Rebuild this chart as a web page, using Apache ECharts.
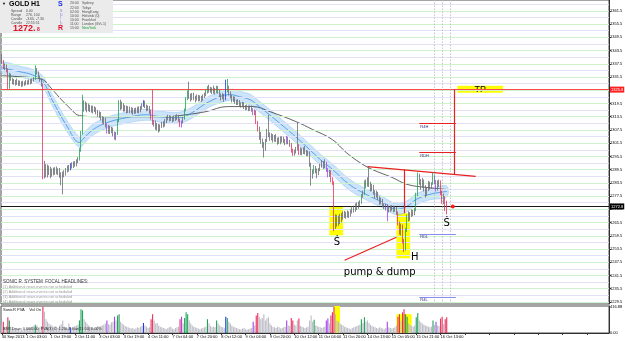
<!DOCTYPE html>
<html><head><meta charset="utf-8">
<script src="https://cdn.jsdelivr.net/npm/echarts@6/dist/echarts.min.js"></script>
<style>html,body{margin:0;padding:0;background:#fff;overflow:hidden}#c{width:625px;height:341px}</style>
</head><body><div id="c"></div><script>
// ---------- DATA ----------
// hourly candles [open, close, low, high], GOLD H1, 30 Sep 2013 -> 16 Oct 2013
const candles = [
[1340.0,1338.5,1337.5,1341.8],[1338.5,1336.0,1335.2,1339.2],[1336.0,1336.8,1334.6,1337.6],[1336.8,1334.8,1333.6,1337.2],[1334.8,1326.9,1325.8,1335.3],
[1327.0,1332.6,1326.2,1333.4],[1332.6,1330.4,1329.8,1333.0],[1330.4,1329.1,1328.2,1331.0],[1329.1,1329.8,1328.0,1330.6],[1329.8,1328.6,1327.6,1330.2],
[1328.6,1329.5,1327.9,1330.8],[1329.5,1328.4,1327.4,1330.0],[1328.4,1329.0,1327.5,1329.9],[1329.0,1328.1,1327.0,1329.6],[1328.1,1328.9,1327.3,1329.8],
[1328.9,1328.3,1327.5,1329.5],[1328.3,1329.4,1327.8,1330.2],[1329.4,1328.7,1328.0,1330.0],[1328.7,1329.6,1328.1,1330.4],[1329.6,1329.0,1328.2,1330.5],
[1329.0,1330.0,1328.5,1330.8],[1330.0,1330.6,1329.4,1331.4],[1330.6,1334.8,1330.2,1336.8],[1334.8,1333.5,1332.6,1335.6],[1333.5,1331.6,1330.9,1334.0],
[1331.6,1330.2,1329.4,1332.2],[1330.2,1328.0,1327.2,1330.8],[1328.0,1292.7,1285.1,1328.6],[1292.7,1289.0,1285.5,1293.5],[1289.0,1291.0,1286.0,1292.0],
[1291.0,1288.2,1285.9,1291.8],[1288.2,1290.2,1287.0,1291.3],[1290.2,1287.6,1285.6,1290.8],[1287.6,1289.2,1286.3,1290.0],[1289.2,1288.0,1286.9,1290.4],
[1288.0,1289.8,1287.2,1290.6],[1289.8,1288.4,1287.4,1290.9],[1288.4,1289.3,1287.0,1290.1],[1289.3,1287.5,1285.8,1290.2],[1287.5,1286.2,1282.4,1288.3],
[1286.2,1288.0,1278.3,1288.6],[1288.0,1287.6,1286.0,1289.2],[1287.6,1289.4,1286.8,1290.2],[1289.4,1290.6,1288.2,1291.4],[1290.6,1289.8,1288.6,1291.6],
[1289.8,1291.6,1289.2,1292.4],[1291.6,1291.0,1290.0,1292.8],[1291.0,1292.4,1290.2,1293.2],[1292.4,1291.8,1290.8,1293.4],[1291.8,1293.4,1291.0,1294.2],
[1293.4,1294.2,1292.4,1295.2],[1294.2,1298.4,1293.6,1299.2],[1298.4,1306.2,1297.6,1307.0],[1306.2,1319.5,1305.4,1323.5],[1319.5,1317.2,1315.8,1321.0],
[1317.2,1319.0,1316.4,1320.4],[1319.0,1316.8,1315.5,1319.8],[1316.8,1318.2,1316.0,1319.5],[1318.2,1317.0,1315.6,1318.9],[1317.0,1317.8,1315.4,1318.6],
[1317.8,1316.5,1315.0,1318.5],[1316.5,1317.3,1315.6,1318.2],[1317.3,1316.0,1314.6,1317.8],[1316.0,1314.4,1313.4,1316.6],[1314.4,1315.2,1313.0,1316.0],
[1315.2,1313.0,1311.8,1315.6],[1313.0,1311.5,1310.4,1313.8],[1311.5,1312.6,1310.0,1313.4],[1312.6,1310.0,1308.6,1313.0],[1310.0,1306.8,1305.9,1310.6],
[1306.8,1308.6,1305.8,1309.8],[1308.6,1307.2,1305.6,1309.4],[1307.2,1308.0,1306.0,1309.0],[1308.0,1306.2,1304.6,1308.6],[1306.2,1303.8,1303.1,1306.8],
[1303.8,1305.6,1302.8,1306.6],[1305.6,1311.8,1305.2,1312.4],[1311.8,1319.6,1311.0,1321.0],[1319.6,1317.8,1316.5,1321.2],[1317.8,1319.0,1316.9,1320.3],
[1319.0,1316.9,1315.8,1319.6],[1316.9,1318.0,1315.9,1318.8],[1318.0,1316.4,1315.0,1318.6],[1316.4,1317.5,1315.2,1318.3],[1317.5,1316.2,1315.1,1318.1],
[1316.2,1317.0,1315.0,1317.8],[1317.0,1315.6,1314.4,1317.6],[1315.6,1316.8,1314.8,1317.4],[1316.8,1315.8,1314.9,1317.6],[1315.8,1317.2,1315.2,1318.0],
[1317.2,1316.0,1315.0,1318.2],[1316.0,1317.6,1315.5,1318.4],[1317.6,1318.6,1316.8,1319.6],[1318.6,1320.2,1318.0,1321.0],[1320.2,1318.4,1317.4,1320.8],
[1318.4,1317.0,1316.0,1319.0],[1317.0,1317.8,1316.2,1318.6],[1317.8,1316.0,1314.8,1318.4],[1316.0,1313.0,1312.2,1316.6],[1313.0,1310.4,1309.8,1325.6],
[1310.4,1311.2,1309.0,1312.0],[1311.2,1308.8,1307.6,1311.8],[1308.8,1309.8,1307.2,1310.6],[1309.8,1308.0,1306.3,1310.2],[1308.0,1309.2,1306.8,1310.0],
[1309.2,1310.4,1308.4,1311.2],[1310.4,1309.6,1308.6,1311.4],[1309.6,1311.6,1309.0,1312.4],[1311.6,1312.8,1310.6,1313.6],[1312.8,1313.6,1311.8,1314.4],
[1313.6,1312.4,1311.4,1314.2],[1312.4,1313.0,1311.6,1313.9],[1313.0,1312.0,1311.0,1313.6],[1312.0,1313.2,1311.4,1314.0],[1313.2,1312.6,1311.6,1314.2],
[1312.6,1313.8,1312.0,1314.6],[1313.8,1312.2,1311.2,1314.2],[1312.2,1309.6,1308.8,1312.6],[1309.6,1311.0,1308.6,1311.8],[1311.0,1312.8,1310.4,1313.4],
[1312.8,1316.6,1312.2,1317.2],[1316.6,1321.8,1316.0,1322.4],[1321.8,1324.6,1321.0,1325.4],[1324.6,1323.0,1321.6,1329.4],[1323.0,1321.8,1320.4,1324.0],
[1321.8,1323.4,1321.0,1324.2],[1323.4,1322.2,1321.0,1324.4],[1322.2,1321.4,1320.0,1323.0],[1321.4,1322.8,1320.8,1323.6],[1322.8,1321.6,1320.4,1323.4],
[1321.6,1322.4,1320.6,1323.2],[1322.4,1321.2,1320.2,1323.0],[1321.2,1322.8,1320.8,1323.6],[1322.8,1323.6,1322.0,1324.4],[1323.6,1324.8,1322.8,1325.6],
[1324.8,1326.6,1324.0,1327.4],[1326.6,1325.4,1324.4,1328.0],[1325.4,1326.2,1324.4,1327.0],[1326.2,1324.6,1323.8,1326.8],[1324.6,1325.8,1324.0,1327.6],
[1325.8,1324.8,1323.6,1326.6],[1324.8,1326.8,1324.2,1327.6],[1326.8,1325.2,1324.0,1327.4],[1325.2,1323.4,1322.4,1325.8],[1323.4,1322.0,1320.8,1324.0],
[1322.0,1323.2,1321.4,1324.2],[1323.2,1321.6,1320.2,1323.8],[1321.6,1325.4,1321.0,1330.3],[1325.4,1327.0,1324.6,1330.6],[1327.0,1324.4,1323.2,1327.6],
[1324.4,1322.8,1321.8,1325.0],[1322.8,1321.2,1320.0,1323.4],[1321.2,1322.0,1320.2,1322.8],[1322.0,1320.4,1319.4,1322.6],[1320.4,1319.8,1318.8,1321.2],
[1319.8,1320.6,1318.8,1321.4],[1320.6,1319.2,1318.0,1321.0],[1319.2,1318.6,1317.6,1320.0],[1318.6,1319.4,1317.8,1320.2],[1319.4,1318.0,1317.0,1320.0],
[1318.0,1317.2,1316.4,1318.8],[1317.2,1318.2,1316.6,1319.0],[1318.2,1317.0,1316.0,1318.6],[1317.0,1317.8,1316.2,1318.6],[1317.8,1316.8,1315.8,1318.6],
[1316.8,1315.0,1314.2,1317.4],[1315.0,1316.0,1314.2,1316.8],[1316.0,1311.0,1310.2,1316.4],[1311.0,1307.7,1306.8,1311.6],[1307.7,1305.0,1303.0,1309.0],
[1305.0,1302.4,1301.2,1306.6],[1302.4,1301.0,1299.4,1303.6],[1301.0,1298.8,1295.0,1302.0],[1298.8,1302.6,1298.0,1303.4],[1302.6,1306.8,1302.0,1308.0],
[1306.8,1305.6,1304.2,1314.4],[1305.6,1303.6,1302.6,1306.4],[1303.6,1305.0,1302.8,1306.0],[1305.0,1303.0,1301.8,1305.6],[1303.0,1304.4,1302.2,1305.2],
[1304.4,1303.2,1302.0,1305.6],[1303.2,1302.0,1300.8,1304.0],[1302.0,1303.4,1301.2,1304.2],[1303.4,1302.4,1301.0,1304.6],[1302.4,1303.8,1301.8,1304.6],
[1303.8,1302.6,1301.6,1304.4],[1302.6,1301.8,1300.6,1303.4],[1301.8,1303.8,1301.0,1304.8],[1303.8,1302.2,1301.0,1304.4],[1302.2,1301.0,1299.8,1303.0],
[1301.0,1298.0,1297.2,1301.6],[1298.0,1296.6,1295.8,1299.0],[1296.6,1297.8,1295.8,1298.6],[1297.8,1299.0,1296.8,1299.8],[1299.0,1300.2,1298.2,1310.8],
[1300.2,1297.0,1296.2,1301.0],[1297.0,1298.4,1296.2,1299.6],[1298.4,1297.2,1296.0,1299.2],[1297.2,1298.6,1296.6,1299.6],[1298.6,1297.6,1296.4,1300.2],
[1297.6,1296.6,1295.6,1298.4],[1296.6,1297.4,1295.6,1298.2],[1297.4,1292.0,1290.8,1297.8],[1292.0,1286.6,1282.2,1292.6],[1286.6,1288.4,1285.4,1289.6],
[1288.4,1290.8,1287.6,1291.6],[1290.8,1289.2,1287.8,1291.2],[1289.2,1287.6,1285.6,1290.0],[1287.6,1289.4,1287.0,1290.2],[1289.4,1291.4,1288.8,1292.2],
[1291.4,1292.6,1290.4,1293.8],[1292.6,1291.0,1289.8,1293.4],[1291.0,1292.4,1290.2,1294.2],[1292.4,1289.6,1288.4,1293.0],[1289.6,1287.0,1286.0,1290.2],
[1287.0,1288.6,1286.2,1289.4],[1288.6,1285.2,1283.8,1289.2],[1285.2,1283.6,1282.6,1286.0],[1283.6,1264.6,1261.6,1284.2],[1264.6,1268.0,1262.6,1269.2],
[1268.0,1265.0,1263.6,1269.0],[1265.0,1267.6,1264.0,1268.6],[1267.6,1266.2,1264.8,1269.4],[1266.2,1268.8,1265.6,1269.8],[1268.8,1268.2,1266.8,1270.6],
[1268.2,1269.6,1267.6,1270.8],[1269.6,1268.4,1267.2,1270.4],[1268.4,1269.8,1267.8,1271.0],[1269.8,1269.0,1267.6,1270.6],[1269.0,1270.4,1268.2,1271.4],
[1270.4,1272.0,1269.6,1273.0],[1272.0,1271.0,1270.0,1273.2],[1271.0,1273.2,1270.4,1274.2],[1273.2,1272.4,1271.2,1274.6],[1272.4,1273.8,1271.8,1275.0],
[1273.8,1274.6,1272.8,1275.6],[1274.6,1277.6,1274.0,1278.4],[1277.6,1278.8,1276.8,1280.0],[1278.8,1283.8,1278.0,1284.6],[1283.8,1282.6,1281.2,1285.0],
[1282.6,1284.4,1281.8,1286.0],[1284.4,1283.0,1281.6,1290.9],[1283.0,1280.6,1279.6,1284.0],[1280.6,1282.0,1279.8,1283.0],[1282.0,1279.4,1278.2,1282.6],
[1279.4,1277.6,1276.4,1280.2],[1277.6,1279.0,1276.8,1280.0],[1279.0,1276.6,1275.6,1279.4],[1276.6,1274.6,1273.6,1277.4],[1274.6,1275.8,1273.8,1276.8],
[1275.8,1273.6,1272.6,1276.2],[1273.6,1272.4,1271.6,1274.2],[1272.4,1273.2,1271.0,1274.0],[1273.2,1270.8,1266.1,1273.8],[1270.8,1272.2,1270.0,1273.0],
[1272.2,1271.6,1270.4,1273.2],[1271.6,1272.6,1270.8,1273.4],[1272.6,1271.2,1270.2,1273.2],[1271.2,1272.0,1270.4,1272.8],[1272.0,1270.0,1269.0,1272.6],
[1270.0,1265.0,1264.2,1270.6],[1265.0,1261.0,1260.0,1266.0],[1261.0,1264.0,1259.6,1265.0],[1264.0,1257.0,1256.0,1264.6],[1257.0,1253.4,1252.1,1258.0],
[1253.4,1262.0,1252.8,1263.0],[1262.0,1268.4,1261.2,1269.2],[1268.4,1267.2,1266.0,1270.6],[1267.2,1269.0,1266.4,1270.2],[1269.0,1270.4,1268.0,1271.4],
[1270.4,1269.4,1268.4,1271.2],[1269.4,1271.2,1268.8,1272.2],[1271.2,1278.0,1270.6,1279.0],[1278.0,1286.4,1277.4,1288.2],[1286.4,1284.2,1282.6,1287.6],
[1284.2,1282.0,1280.4,1285.2],[1282.0,1284.6,1281.2,1285.8],[1284.6,1281.4,1279.6,1285.0],[1281.4,1278.8,1276.8,1282.4],[1278.8,1280.6,1277.6,1281.6],
[1280.6,1283.2,1279.8,1284.4],[1283.2,1281.8,1280.4,1284.0],[1281.8,1283.0,1280.8,1283.8],[1283.0,1286.4,1282.6,1288.2],[1286.4,1284.0,1282.8,1287.0],
[1284.0,1280.8,1279.6,1284.8],[1280.8,1282.6,1280.0,1284.6],[1282.6,1284.0,1281.6,1285.0],[1284.0,1279.0,1278.0,1284.6],[1279.0,1275.0,1274.0,1280.0],
[1275.0,1276.2,1273.8,1278.6],[1276.2,1274.0,1270.8,1277.4],[1274.0,1272.8,1269.2,1275.4]
];
const redIdx = [1,4,27,98,99,117,167,168,190,191,195,216,217,218,260,261,263,264,288,289,291,292];
const greenIdx = [5,22,51,52,53,76,77,120,121,122,135,141,148,205,236,238,265,266,272,273,283];
const purpleIdx = [69,74,118,165,187,213,214,253,285];
const blueIdx = [45,93,147];
const volumes = [
120,180,90,110,250,200,100,70,60,80,50,
60,40,50,45,55,60,70,80,90,100,110,
130,120,80,90,110,420,
340,220,180,150,130,120,90,110,100,80,120,140,200,
100,80,70,150,90,80,70,110,120,130,
200,380,360,
220,180,150,120,100,90,80,70,90,110,
100,110,120,130,150,200,140,130,170,180,260,200,
280,300,
180,150,130,110,100,90,80,70,80,60,70,90,80,100,110,160,120,100,80,90,
220,300,
200,150,160,120,100,90,80,70,60,80,90,100,70,60,80,90,100,220,260,150,
240,330,300,200,
150,120,100,90,80,70,60,70,80,90,100,220,150,110,90,100,90,200,150,120,100,90,80,
260,240,
180,150,120,100,90,80,70,60,60,70,80,60,50,60,70,80,
180,
120,280,320,
260,220,240,300,200,230,250,150,120,100,90,80,100,90,70,80,90,100,
200,120,110,240,200,130,120,200,230,
110,100,90,80,90,100,200,280,180,
210,
120,110,100,90,80,90,100,
200,230,150,280,330,420,
300,200,180,150,130,120,100,90,80,70,60,80,90,100,110,120,130,
220,160,250,
180,200,160,130,110,100,90,80,70,90,80,70,60,80,
180,
90,80,70,80,90,120,
260,300,200,330,380,300,260,
150,130,110,100,120,
250,320,
200,170,150,130,120,110,100,90,100,
200,130,180,120,110,
230,260,140,220,250
];
const tickLabels = ['30 Sep 2013','1 Oct 03:00','1 Oct 19:00','2 Oct 11:00','3 Oct 03:00','3 Oct 19:00','4 Oct 11:00','7 Oct 04:00','7 Oct 20:00','8 Oct 12:00','9 Oct 04:00','9 Oct 20:00','10 Oct 12:00','11 Oct 04:00','11 Oct 20:00','14 Oct 13:00','15 Oct 05:00','15 Oct 21:00','16 Oct 13:00'];
const barsPerLabel = 16;
const totalSlots = 399;
const priceTicks = [1229.5,1235.5,1241.5,1247.5,1253.5,1259.5,1265.5,1271.5,1277.5,1283.5,1289.5,1295.5,1301.5,1307.5,1313.5,1319.5,1325.5,1331.5,1337.5,1343.5,1349.5,1355.5,1361.5];
const priceMin = 1228.55, priceMax = 1366.44;
const tpLevel = 1325.8, lastPrice = 1272.8;
const volMax = 430, volTop = 416.88;
// moving averages read at sparse bars [barIndex, price]
const emaSlow = [[0,1332.1],[20,1331.2],[27,1330.3],[31,1327.6],[38,1322.1],[45,1317.2],[51,1314.0],[64,1313.5],[86,1313.5],[108,1313.5],[121,1314.4],[134,1315.8],[148,1318.1],[165,1318.1],[176,1315.8],[193,1311.3],[204,1307.7],[217,1303.1],[226,1297.3],[235,1292.7],[243,1289.6],[256,1286.0],[266,1282.8],[279,1281.4],[292,1280.5]];
const dragonMid = [[0,1335.7],[12,1333.9],[20,1332.5],[27,1329.4],[33,1321.2],[43,1309.0],[51,1301.8],[53,1303.1],[60,1307.7],[69,1310.8],[82,1313.1],[95,1314.4],[104,1313.5],[117,1313.1],[125,1315.4],[136,1320.3],[150,1323.5],[156,1322.6],[163,1321.2],[169,1318.1],[182,1310.8],[195,1303.1],[209,1294.1],[217,1289.6],[228,1282.8],[239,1278.3],[250,1274.7],[259,1271.5],[266,1272.9],[272,1276.0],[281,1278.3],[292,1279.6]];
const dragonHigh = [[0,1338.2],[12,1336.4],[20,1335.0],[27,1331.9],[33,1323.7],[43,1311.5],[51,1304.3],[53,1305.6],[60,1310.2],[69,1313.3],[82,1315.6],[95,1316.9],[104,1316.0],[117,1315.6],[125,1317.9],[136,1322.8],[150,1326.0],[156,1325.1],[163,1323.7],[169,1320.6],[182,1313.3],[195,1305.6],[209,1296.6],[217,1292.1],[228,1285.3],[239,1280.8],[250,1277.2],[259,1274.0],[266,1275.4],[272,1278.5],[281,1280.8],[292,1282.1]];
const dragonLow = [[0,1333.2],[12,1331.4],[20,1330.0],[27,1326.9],[33,1318.7],[43,1306.5],[51,1299.3],[53,1300.6],[60,1305.2],[69,1308.3],[82,1310.6],[95,1311.9],[104,1311.0],[117,1310.6],[125,1312.9],[136,1317.8],[150,1321.0],[156,1320.1],[163,1318.7],[169,1315.6],[182,1308.3],[195,1300.6],[209,1291.6],[217,1287.1],[228,1280.3],[239,1275.8],[250,1272.2],[259,1269.0],[266,1270.4],[272,1273.5],[281,1275.8],[292,1277.1]];
// drawn objects, in [barIndex, price]
const tpBox = [[299,1327.6],[329,1324.4]];
const yellowBoxes = [[[215,1272.9],[224,1259.7]],[[259,1269.7],[268,1249.3]]];
const volBoxes = [[[218,430],[222,0]],[[259,300],[269,0]]];
const redSegments = [
  [[297,1325.8],[297,1287.3]],
  [[240,1290.9],[311,1286.4]],
  [[264,1289.6],[264,1269.7]],
  [[225,1248.4],[259,1258.8]]
];
const pivotLines = [
  {name:'R4H', level:1310.4, from:274, to:298, color:'#e82020'},
  {name:'RDH', level:1297.3, from:274, to:298, color:'#e82020'},
  {name:'RDL', level:1260.2, from:274, to:298, color:'#8c8cf0'},
  {name:'R4L', level:1231.7, from:274, to:298, color:'#8c8cf0'}
];
const dottedBars = [284, 289, 294];
const chartTexts = [
  {text:'Ṡ', at:[220,1256.4], size:10},
  {text:'Ṡ', at:[292,1265.0], size:10},
  {text:'H', at:[271,1249.8], size:10},
  {text:'pump & dump', at:[248,1243.0], size:10}
];
const lastDot = [296, 1272.8];
const infoRows = [['Spread','0.00'],['Range','276, 100'],['Candle','-3.60, -7.30'],['Candle','22:55:51']];
const sessions = [['20:00','Sydney'],['22:00','Tokyo'],['02:00','HongKong'],['10:00','Helsinki (0)'],['10:00','Frankfurt'],['11:00','London (GV+1)'],['15:00','NewYork']];
const newsLines = ['(1) Additional news events not scheduled','(2) Additional news events not scheduled','(3) Additional news events not scheduled','(4) Additional news events not scheduled'];

// ---------- BUILD ----------
const FONT = 'Liberation Sans';
const COL = {red:'#e8305c', green:'#1fa25a', purple:'#a642ee', blue:'#2438e8', grayBody:'#b4b4bc', grayLine:'#6a6a72'};
function codeOf(i){
  if (redIdx.includes(i)) return 'red';
  if (greenIdx.includes(i)) return 'green';
  if (purpleIdx.includes(i)) return 'purple';
  if (blueIdx.includes(i)) return 'blue';
  return null;
}
const slots = [];
for (let i = 0; i < totalSlots; i++) slots.push(String(i));
const candleData = candles.map((c, i) => {
  const k = codeOf(i);
  if (!k) return c;
  const col = COL[k];
  return {value: c, itemStyle: {color: col, color0: col, borderColor: col, borderColor0: col}};
});
const volData = volumes.map((v, i) => {
  const k = codeOf(i);
  return {value: v, itemStyle: {color: k ? COL[k] : '#bcbcc6'}};
});
const gridLevels = [];
for (let v = 1229.5, n = 0; v < priceMax; v += 3, n++) gridLevels.push({yAxis: v, lineStyle: {color: n % 2 ? '#e2e2f6' : '#cdf2cd', width: 1, type: 'solid'}});

const segLines = redSegments.map(s => [
  {coord: s[0], lineStyle: {color: '#e82020', width: 1.2, type: 'solid'}},
  {coord: s[1]}
]);
const pivSegs = pivotLines.map(p => [
  {coord: [p.from, p.level], lineStyle: {color: p.color, width: 1.2, type: 'solid'},
   label: {show: true, formatter: p.name, position: 'insideStartBottom', fontSize: 4, color: '#30307a', fontFamily: FONT, distance: 1}},
  {coord: [p.to, p.level]}
]);
const dotted = dottedBars.map(b => ({xAxis: b, lineStyle: {color: '#b8b8b8', width: 0.8, type: [1.5, 1.5]}}));

const chart = echarts.init(document.getElementById('c'), null, {renderer: 'canvas'});
const option = {
  animation: false,
  backgroundColor: '#ffffff',
  grid: [
    {left: 1, right: 16, top: 0, height: 304, show: true, borderColor: '#4a4a4a', borderWidth: 1, outerBoundsMode: 'none', containLabel: false},
    {left: 1, right: 16, top: 306, height: 27, show: true, borderColor: '#4a4a4a', borderWidth: 1, outerBoundsMode: 'none', containLabel: false}
  ],
  xAxis: [
    {type: 'category', gridIndex: 0, data: slots, axisLine: {show: false}, axisTick: {show: false}, axisLabel: {show: false}, splitLine: {show: false}},
    {type: 'category', gridIndex: 1, data: slots, axisLine: {show: true, lineStyle: {color: '#303030'}},
     axisTick: {show: true, interval: barsPerLabel - 1, length: 2, alignWithLabel: true, lineStyle: {color: '#303030'}},
     axisLabel: {interval: barsPerLabel - 1, fontSize: 4, color: '#000', margin: 2, align: 'left', fontFamily: FONT, hideOverlap: false,
       formatter: (v) => { const i = +v; const k = i / barsPerLabel; return (i % barsPerLabel === 0 && k < tickLabels.length) ? tickLabels[k] : ''; }},
     splitLine: {show: false}}
  ],
  yAxis: [
    {type: 'value', gridIndex: 0, position: 'right', min: priceMin, max: priceMax, scale: true,
     axisLine: {show: true, lineStyle: {color: '#303030'}},
     axisTick: {show: true, customValues: priceTicks, length: 2, lineStyle: {color: '#303030'}},
     axisLabel: {customValues: priceTicks, fontSize: 4, color: '#000', margin: 1, fontFamily: FONT, formatter: v => v.toFixed(1)},
     splitLine: {show: false}},
    {type: 'value', gridIndex: 1, position: 'right', min: 0, max: volMax,
     axisLine: {show: true, lineStyle: {color: '#303030'}},
     axisTick: {show: false},
     axisLabel: {customValues: [0, volTop], fontSize: 4, color: '#000', margin: 1, fontFamily: FONT, formatter: v => v.toFixed(2)},
     splitLine: {show: false}}
  ],
  series: [
    {type: 'line', name: 'levels', xAxisIndex: 0, yAxisIndex: 0, data: [], z: 1, silent: true,
     markLine: {silent: true, symbol: ['none', 'none'], label: {show: false}, data: gridLevels, animation: false}},
    {type: 'custom', name: 'dragon', xAxisIndex: 0, yAxisIndex: 0, z: 2, silent: true, data: dragonHigh, encode: {x: 0, y: 1},
     renderItem: function (params, api) {
       if (params.dataIndex !== 0) return null;
       const pts = [];
       dragonHigh.forEach(p => pts.push(api.coord(p)));
       dragonLow.slice().reverse().forEach(p => pts.push(api.coord(p)));
       return {type: 'polygon', shape: {points: pts, smooth: 0.35}, style: {fill: 'rgba(160,205,245,0.55)', stroke: 'rgba(130,185,240,0.7)', lineWidth: 0.6}};
     }},
    {type: 'line', name: 'yellow', xAxisIndex: 0, yAxisIndex: 0, data: [], z: 3, silent: true,
     markArea: {silent: true, itemStyle: {color: '#ffff00', opacity: 1}, data: yellowBoxes.map(b => [{coord: b[0]}, {coord: b[1]}])}},
    {type: 'line', name: 'slow', xAxisIndex: 0, yAxisIndex: 0, data: emaSlow, z: 4, smooth: 0.4, showSymbol: false, symbol: 'none', silent: true,
     lineStyle: {color: '#3c3c3c', width: 0.8}},
    {type: 'line', name: 'dragonMid', xAxisIndex: 0, yAxisIndex: 0, data: dragonMid, z: 4, smooth: 0.4, showSymbol: false, symbol: 'none', silent: true,
     lineStyle: {color: '#3f8fe6', width: 0.8}},
    {type: 'candlestick', name: 'GOLD H1', xAxisIndex: 0, yAxisIndex: 0, data: candleData, z: 5, barWidth: 1.2, silent: true,
     itemStyle: {color: COL.grayBody, color0: COL.grayBody, borderColor: COL.grayLine, borderColor0: COL.grayLine, borderWidth: 0.8}},
    {type: 'line', name: 'objects', xAxisIndex: 0, yAxisIndex: 0, data: [], z: 6, silent: true,
     markLine: {silent: true, symbol: ['none', 'none'], label: {show: false},
       data: [
         {yAxis: tpLevel, lineStyle: {color: '#ff4a4a', width: 1, type: 'solid'},
          label: {show: true, position: 'end', distance: 1, formatter: tpLevel.toFixed(1), backgroundColor: '#ff2020', color: '#fff', fontSize: 4, padding: [1, 1], fontFamily: FONT}},
         {yAxis: lastPrice, lineStyle: {color: '#1a1a1a', width: 1, type: 'solid'},
          label: {show: true, position: 'end', distance: 1, formatter: lastPrice.toFixed(1), backgroundColor: '#000', color: '#fff', fontSize: 4, padding: [1, 1], fontFamily: FONT}},
         ...dotted,
         ...segLines,
         ...pivSegs
       ]},
     markArea: {silent: true, itemStyle: {color: '#ffff00', opacity: 1},
       label: {show: true, position: 'inside', formatter: 'TP', fontSize: 9, color: '#000', fontFamily: FONT},
       data: [[{coord: tpBox[0]}, {coord: tpBox[1]}]]},
     markPoint: {silent: true, symbolSize: 0,
       data: chartTexts.map(t => ({coord: t.at, symbol: 'circle', symbolSize: 0,
         label: {show: true, position: 'inside', formatter: t.text, fontSize: t.size, color: '#000', fontFamily: 'DejaVu Sans'}}))
         .concat([{coord: lastDot, symbol: 'circle', symbolSize: 4, itemStyle: {color: '#ff1a1a'}, label: {show: false}}])}},
    {type: 'line', name: 'volBoxes', xAxisIndex: 1, yAxisIndex: 1, data: [], z: 1, silent: true,
     markArea: {silent: true, itemStyle: {color: '#ffff00', opacity: 1}, data: volBoxes.map(b => [{coord: b[0]}, {coord: b[1]}])}},
    {type: 'bar', name: 'PVA', xAxisIndex: 1, yAxisIndex: 1, data: volData, barWidth: 1.1, z: 2, silent: true}
  ],
  graphic: [
    {type: 'rect', left: 0, top: 0, shape: {width: 113, height: 33}, style: {fill: '#ebebeb'}, z: 50},
    {type: 'text', left: 2, top: 2, style: {text: '▼', fontSize: 4, fill: '#000', font: '4px ' + FONT}, z: 51},
    {type: 'text', left: 9, top: 1, style: {text: 'GOLD', fill: '#000', font: 'bold 7px ' + FONT}, z: 51},
    {type: 'text', left: 31, top: 1, style: {text: 'H1', fill: '#000', font: 'bold 7px ' + FONT}, z: 51},
    ...infoRows.flatMap((r, k) => [
      {type: 'text', left: 11, top: 9.5 + k * 4, style: {text: r[0], fill: '#505050', font: '3.5px ' + FONT}, z: 51},
      {type: 'text', left: 26, top: 9.5 + k * 4, style: {text: r[1], fill: '#505050', font: '3.5px ' + FONT}, z: 51}
    ]),
    {type: 'text', left: 13, top: 24, style: {text: '1272.', fill: '#e0102a', font: 'bold 9px ' + FONT}, z: 51},
    {type: 'text', left: 37, top: 27, style: {text: '8', fill: '#e0102a', font: 'bold 5px ' + FONT}, z: 51},
    {type: 'text', left: 58, top: 1, style: {text: 'S', fill: '#1a2ae0', font: 'bold 7px ' + FONT}, z: 51},
    {type: 'text', left: 60, top: 9.5, style: {text: 'S\nD\nI\nL\nC', fill: '#8a6ad8', font: '3.5px ' + FONT, lineHeight: 3.5}, z: 51},
    {type: 'text', left: 58, top: 25, style: {text: 'R', fill: '#e0102a', font: 'bold 7px ' + FONT}, z: 51},
    ...sessions.flatMap((s, k) => [
      {type: 'text', left: 70, top: 1.5 + k * 4.1, style: {text: s[0], fill: '#505050', font: '3.5px ' + FONT}, z: 51},
      {type: 'text', left: 82, top: 1.5 + k * 4.1, style: {text: s[1], fill: k === sessions.length - 1 ? '#10a030' : '#505050', font: '3.5px ' + FONT}, z: 51}
    ]),
    {type: 'text', left: 3, top: 279, style: {text: 'SONIC R. SYSTEM  FOCAL HEADLINES:', fill: '#303030', font: '4.5px ' + FONT}, z: 51},
    ...newsLines.map((t, k) => ({type: 'text', left: 3, top: 285 + k * 5, style: {text: t, fill: '#9a9a9a', font: '3.8px ' + FONT}, z: 51})),
    {type: 'text', left: 3, top: 308, style: {text: 'SonicR PVA    Vol On', fill: '#202020', font: '4px ' + FONT}, z: 51},
    {type: 'text', left: 3, top: 326.5, style: {text: 'BSR Draw: 0.60/0.00  PVA(3) C: 1.2/0.4  Bar(11:50) 0.00%', fill: '#303030', font: '3.8px ' + FONT}, z: 51}
  ]
};
chart.setOption(option);
</script></body></html>
